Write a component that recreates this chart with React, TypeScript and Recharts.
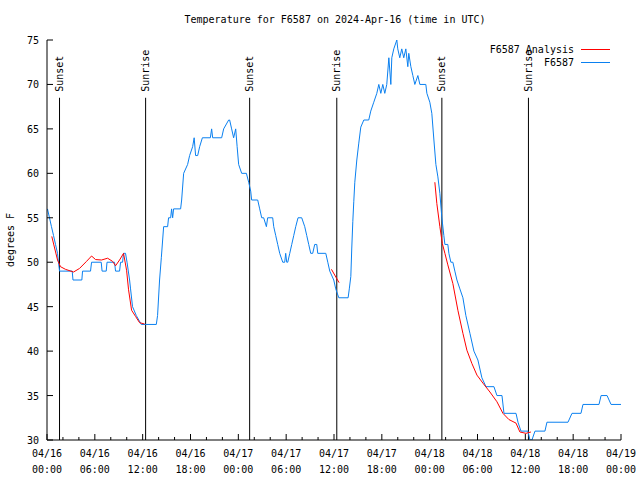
import React from "react";
import { LineChart, Line, XAxis, YAxis, ReferenceLine, Legend } from "recharts";

// hours since 2024-04-16 00:00 UTC, temperature (F)
const f6587Obs: [number, number][] = [
  [0.06, 56], [0.31, 55], [0.56, 54], [0.82, 53], [1.07, 52], [1.32, 51], [1.44, 50], [1.57, 49],
  [3.16, 49], [3.26, 48], [4.37, 48], [4.46, 49], [5.46, 49], [5.59, 50], [6.8, 50], [6.91, 49],
  [7.43, 49], [7.53, 50], [8.47, 50], [8.6, 49], [9.1, 49], [9.23, 50], [9.48, 50], [9.6, 51],
  [9.85, 51], [10.04, 50], [10.36, 48], [10.48, 47], [10.73, 45], [11.2, 44], [11.83, 43], [13.71, 43],
  [13.87, 44], [14.12, 48], [14.34, 50.5], [14.63, 54], [15.13, 54], [15.25, 55], [15.51, 55], [15.63, 56],
  [15.76, 55], [15.88, 56], [16.76, 56], [16.89, 57], [17.14, 60], [17.64, 61], [17.89, 62], [18.27, 63],
  [18.46, 64], [18.64, 62], [18.9, 62], [19.15, 63], [19.49, 64], [20.49, 64], [20.65, 65], [20.78, 64],
  [21.91, 64], [22.16, 65], [22.79, 66], [22.91, 66], [23.16, 65], [23.41, 64], [23.67, 65], [23.85, 63],
  [24.04, 61], [24.42, 60], [25.01, 60], [25.3, 59], [25.55, 58], [25.67, 57], [26.43, 57], [26.68, 56],
  [26.93, 55], [27.18, 55], [27.52, 54], [27.68, 55], [28.31, 55], [28.44, 54], [28.69, 53], [28.94, 52],
  [29.19, 51], [29.57, 50], [29.82, 50], [29.94, 51], [30.07, 50], [30.2, 50], [30.45, 51], [30.7, 52],
  [30.95, 53], [31.2, 54], [31.49, 55], [31.95, 55], [32.33, 54], [32.58, 53], [32.83, 52], [33.08, 51],
  [33.33, 51], [33.58, 52], [33.84, 52], [33.96, 51], [34.97, 51], [35.22, 50], [35.47, 49], [35.97, 48],
  [36.22, 47], [36.6, 46], [37.77, 46], [37.92, 47], [38.11, 48.4], [38.23, 51.6], [38.36, 54.6], [38.48, 56.8],
  [38.61, 59], [38.86, 61.5], [39.11, 63.4], [39.36, 65.2], [39.74, 66], [40.36, 66], [40.61, 67], [40.99, 68],
  [41.37, 69], [41.62, 70], [41.87, 69], [42.12, 70], [42.37, 69], [42.62, 70], [42.88, 73], [43.13, 70],
  [43.25, 73], [43.5, 74], [43.88, 75], [44.0, 74], [44.25, 73], [44.5, 74], [44.75, 73], [45.01, 74],
  [45.26, 72], [45.38, 73.5], [45.64, 72], [45.89, 71], [46.14, 70], [46.52, 71], [46.77, 70], [47.52, 70],
  [47.65, 69], [48.02, 68], [48.27, 66.75], [48.53, 63.75], [48.78, 61], [49.03, 59.6], [49.28, 57.75], [49.53, 55],
  [49.78, 53], [49.91, 52], [50.28, 52], [50.41, 51], [50.66, 50], [50.91, 50], [51.16, 49], [51.42, 48],
  [51.79, 47], [52.17, 46], [52.54, 44], [53.05, 42], [53.55, 40], [54.05, 39], [54.55, 37], [55.06, 36],
  [56.06, 36], [56.44, 35], [57.07, 35], [57.32, 33], [58.83, 33], [59.08, 32], [59.45, 31], [60.33, 31],
  [60.58, 30], [60.83, 30], [61.21, 31], [62.46, 31], [62.71, 32], [65.35, 32], [65.85, 33], [66.98, 33],
  [67.23, 34], [69.24, 34], [69.5, 35], [70.25, 35], [70.75, 34], [72.0, 34],
];

const f6587Analysis: [number, number | null][] = [
  [0.6, 52.9], [1.32, 50.25], [1.69, 49.5], [2.32, 49.2], [3.33, 48.9], [4.08, 49.3], [4.96, 50.1],
  [5.59, 50.7], [6.09, 50.3], [6.84, 50.25], [7.6, 50.45], [8.22, 50.1], [8.6, 49.6], [9.1, 50.25],
  [9.6, 51], [9.98, 49.1], [10.23, 46.9], [10.61, 44.6], [11.11, 43.9], [11.61, 43.2], [12.24, 43.05],
  [12.3, null],
  [35.68, 49.2], [36.64, 47.7],
  [36.7, null],
  [48.65, 59], [48.9, 56.6], [49.28, 54], [49.59, 52.1], [49.91, 51], [50.28, 49.7], [50.91, 47.6],
  [51.54, 44.6], [52.17, 42], [52.67, 40.1], [53.3, 38.6], [53.93, 37.3], [54.68, 36.4], [55.56, 35.4],
  [56.44, 34.3], [57.19, 33], [57.94, 32.3], [58.83, 31.9], [59.32, 30.9], [60.08, 30.75], [60.7, 30.9],
];

const sunsetHours = [1.57, 25.42, 49.53];
const sunriseHours = [12.37, 36.35, 60.39];
const sunLineTop = 68.5;

const xTicks = [0, 2, 4, 6, 8, 10, 12, 14, 16, 18, 20, 22, 24, 26, 28, 30, 32, 34, 36, 38, 40, 42, 44, 46, 48, 50, 52, 54, 56, 58, 60, 62, 64, 66, 68, 70, 72];
const majorTickLabels: Record<number, [string, string]> = {
  0: ["04/16", "00:00"], 6: ["04/16", "06:00"], 12: ["04/16", "12:00"], 18: ["04/16", "18:00"],
  24: ["04/17", "00:00"], 30: ["04/17", "06:00"], 36: ["04/17", "12:00"], 42: ["04/17", "18:00"],
  48: ["04/18", "00:00"], 54: ["04/18", "06:00"], 60: ["04/18", "12:00"], 66: ["04/18", "18:00"],
  72: ["04/19", "00:00"],
};
const yTicks = [30, 35, 40, 45, 50, 55, 60, 65, 70, 75];

const legendNames = ["F6587 Analysis", "F6587"];

const FONT = "'DejaVu Sans Mono', monospace";
const BLUE = "#0a80f0";
const RED = "#ff0000";
const legendColors = [RED, BLUE];

const obsData = f6587Obs.map(([h, t]) => ({ h, t }));
const anaData = f6587Analysis.map(([h, t]) => ({ h, t }));

const BottomTick = (props: any) => {
  const { x, y, payload } = props;
  const v = payload.value;
  const lab = majorTickLabels[v];
  const len = lab ? 6 : 3;
  return (
    <g>
      <line x1={x} x2={x} y1={y} y2={y - len} stroke="#000" strokeWidth={1} />
      {lab && (
        <text x={x} y={y + 17} textAnchor="middle" fontFamily={FONT} fontSize={10} fill="#000">
          {lab[0]}
        </text>
      )}
      {lab && (
        <text x={x} y={y + 33} textAnchor="middle" fontFamily={FONT} fontSize={10} fill="#000">
          {lab[1]}
        </text>
      )}
    </g>
  );
};

const TopTick = (props: any) => {
  const { x, y, payload } = props;
  const len = majorTickLabels[payload.value] ? 6 : 3;
  return <line x1={x} x2={x} y1={y} y2={y + len} stroke="#000" strokeWidth={1} />;
};

const LeftTick = (props: any) => {
  const { x, y, payload } = props;
  return (
    <g>
      <line x1={x} x2={x + 6} y1={y} y2={y} stroke="#000" strokeWidth={1} />
      <text x={x - 8} y={y + 4} textAnchor="end" fontFamily={FONT} fontSize={10} fill="#000">
        {payload.value}
      </text>
    </g>
  );
};

const RightTick = (props: any) => {
  const { x, y } = props;
  return <line x1={x} x2={x - 6} y1={y} y2={y} stroke="#000" strokeWidth={1} />;
};

const SunLabel = (props: any) => {
  const { viewBox, text } = props;
  if (!viewBox) return null;
  const x = viewBox.x;
  const y = viewBox.y - 6;
  return (
    <text
      x={x}
      y={y}
      transform={`rotate(-90 ${x} ${y})`}
      textAnchor="start"
      dominantBaseline="central"
      fontFamily={FONT}
      fontSize={10}
      fill="#000"
    >
      {text}
    </text>
  );
};

const LegendContent = () => {
  return (
    <div style={{ position: "relative", width: 160, height: 28 }}>
      {legendNames.map((name, i) => (
        <div key={i}>
          <div
            style={{
              position: "absolute",
              right: 46,
              top: 1 + Math.round(i * 12.5),
              fontFamily: FONT,
              fontSize: 10,
              lineHeight: "13px",
              color: "#000",
              whiteSpace: "nowrap",
            }}
          >
            {name}
          </div>
          <div
            style={{
              position: "absolute",
              left: 121,
              top: 7 + Math.round(i * 12.5),
              width: 29,
              height: 1,
              background: legendColors[i],
            }}
          />
        </div>
      ))}
    </div>
  );
};

export default function App() {
  return (
    <div style={{ position: "absolute", left: 0, top: 0, width: 640, height: 480, background: "#fff" }}>
      <div
        style={{
          position: "absolute",
          left: 48,
          width: 574,
          top: 13,
          textAlign: "center",
          fontFamily: FONT,
          fontSize: 10,
          lineHeight: "14px",
          color: "#000",
        }}
      >
        Temperature for F6587 on 2024-Apr-16 (time in UTC)
      </div>
      <div
        style={{
          position: "absolute",
          left: 10,
          top: 240,
          transform: "translate(-50%, -50%) rotate(-90deg)",
          fontFamily: FONT,
          fontSize: 10,
          whiteSpace: "nowrap",
          color: "#000",
        }}
      >
        degrees F
      </div>
      <LineChart width={640} height={480} margin={{ top: 40, right: 19, bottom: 0, left: 0 }}>
        <XAxis
          xAxisId="bottom"
          dataKey="h"
          type="number"
          domain={[0, 72]}
          ticks={xTicks}
          interval={0}
          height={40}
          tickSize={0}
          tickMargin={0}
          tickLine={false}
          axisLine={{ stroke: "#000" }}
          tick={<BottomTick />}
          allowDataOverflow
        />
        <XAxis
          xAxisId="top"
          orientation="top"
          dataKey="h"
          type="number"
          domain={[0, 72]}
          ticks={xTicks}
          interval={0}
          height={0}
          tickSize={0}
          tickMargin={0}
          tickLine={false}
          axisLine={{ stroke: "#000" }}
          tick={<TopTick />}
          allowDataOverflow
        />
        <YAxis
          yAxisId="left"
          type="number"
          domain={[30, 75]}
          ticks={yTicks}
          interval={0}
          width={47}
          tickSize={0}
          tickMargin={0}
          tickLine={false}
          axisLine={{ stroke: "#000" }}
          tick={<LeftTick />}
          allowDataOverflow
        />
        <YAxis
          yAxisId="right"
          orientation="right"
          type="number"
          domain={[30, 75]}
          ticks={yTicks}
          interval={0}
          width={0}
          tickSize={0}
          tickMargin={0}
          tickLine={false}
          axisLine={{ stroke: "#000" }}
          tick={<RightTick />}
          allowDataOverflow
        />
        {sunsetHours.map((h, i) => (
          <ReferenceLine
            key={`ss${i}`}
            xAxisId="bottom"
            yAxisId="left"
            segment={[{ x: h, y: sunLineTop }, { x: h, y: 30 }]}
            stroke="#000"
            strokeWidth={1}
            label={<SunLabel text="Sunset" />}
          />
        ))}
        {sunriseHours.map((h, i) => (
          <ReferenceLine
            key={`sr${i}`}
            xAxisId="bottom"
            yAxisId="left"
            segment={[{ x: h, y: sunLineTop }, { x: h, y: 30 }]}
            stroke="#000"
            strokeWidth={1}
            label={<SunLabel text="Sunrise" />}
          />
        ))}
        <Line
          xAxisId="bottom"
          yAxisId="left"
          data={obsData}
          dataKey="t"
          name="F6587"
          type="linear"
          stroke={BLUE}
          strokeWidth={1}
          dot={false}
          activeDot={false}
          isAnimationActive={false}
        />
        <Line
          xAxisId="bottom"
          yAxisId="left"
          data={anaData}
          dataKey="t"
          name="F6587 Analysis"
          type="linear"
          stroke={RED}
          strokeWidth={1}
          dot={false}
          activeDot={false}
          connectNulls={false}
          isAnimationActive={false}
        />
        <Legend
          layout="horizontal"
          verticalAlign="middle"
          align="center"
          content={<LegendContent />}
          wrapperStyle={{ position: "absolute", left: 460, top: 42, width: 160, height: 28 }}
        />
      </LineChart>
    </div>
  );
}
